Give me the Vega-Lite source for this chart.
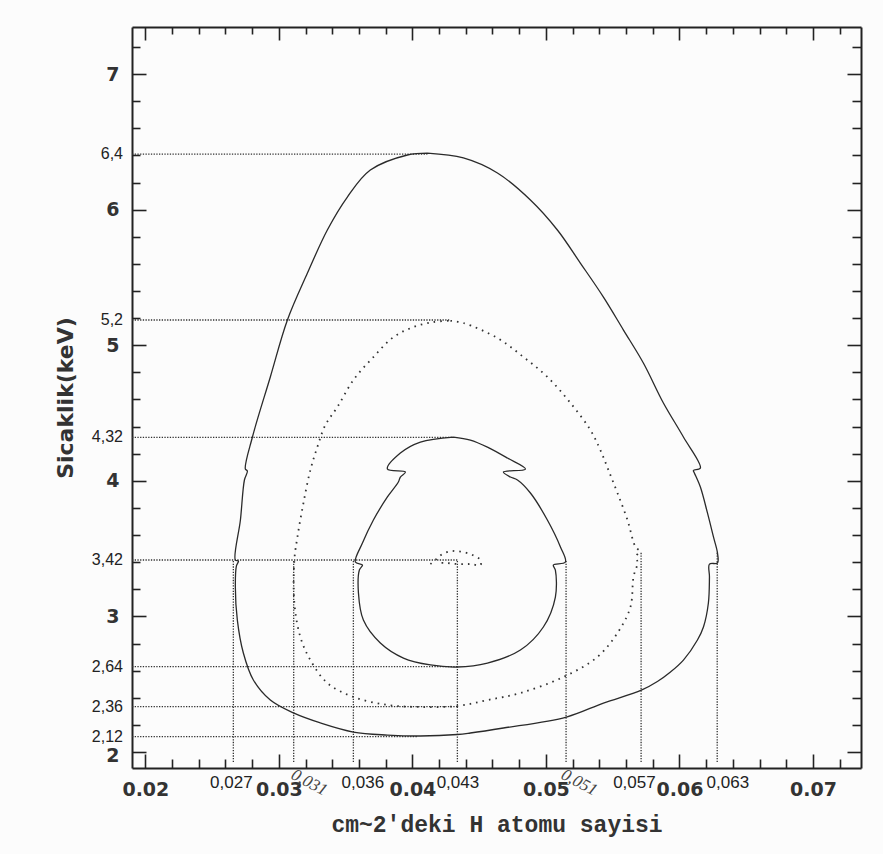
{
  "$schema": "https://vega.github.io/schema/vega-lite/v6.json",
  "width": 729,
  "height": 741,
  "autosize": "none",
  "padding": {"left": 132, "top": 27, "right": 22, "bottom": 86},
  "background": "#fcfcfc",
  "config": {"view": {"stroke": null}, "axis": {"grid": false}},
  "datasets": {
    "hlines": [
      {"y": 6.41, "x0": 0.019, "x1": 0.04112, "label": "6,4"},
      {"y": 5.186, "x0": 0.019, "x1": 0.04285, "label": "5,2"},
      {"y": 4.32, "x0": 0.019, "x1": 0.04307, "label": "4,32"},
      {"y": 3.416, "x0": 0.019, "x1": 0.04337, "label": "3,42"},
      {"y": 2.629, "x0": 0.019, "x1": 0.04337, "label": "2,64"},
      {"y": 2.334, "x0": 0.019, "x1": 0.04337, "label": "2,36"},
      {"y": 2.113, "x0": 0.019, "x1": 0.0404, "label": "2,12"}
    ],
    "vlines": [
      {"x": 0.02659, "y0": 1.926, "y1": 3.416, "label": "0,027", "lx": 0.02644},
      {"x": 0.03111, "y0": 1.926, "y1": 3.416, "label": "0,031", "lx": 0.03146},
      {"x": 0.03558, "y0": 1.926, "y1": 3.416, "label": "0,036", "lx": 0.03629},
      {"x": 0.04337, "y0": 1.926, "y1": 3.416, "label": "0,043", "lx": 0.04341},
      {"x": 0.05151, "y0": 1.926, "y1": 3.416, "label": "0,051", "lx": 0.05168},
      {"x": 0.05713, "y0": 1.926, "y1": 3.477, "label": "0,057", "lx": 0.05663},
      {"x": 0.06283, "y0": 1.926, "y1": 3.47, "label": "0,063", "lx": 0.06363}
    ],
    "contours": [
      {"c": "a", "i": 0, "x": 0.04112, "y": 6.417},
      {"c": "a", "i": 1, "x": 0.04382, "y": 6.381},
      {"c": "a", "i": 2, "x": 0.04637, "y": 6.270},
      {"c": "a", "i": 3, "x": 0.04884, "y": 6.071},
      {"c": "a", "i": 4, "x": 0.05086, "y": 5.850},
      {"c": "a", "i": 5, "x": 0.05258, "y": 5.606},
      {"c": "a", "i": 6, "x": 0.05431, "y": 5.355},
      {"c": "a", "i": 7, "x": 0.05581, "y": 5.112},
      {"c": "a", "i": 8, "x": 0.05730, "y": 4.869},
      {"c": "a", "i": 9, "x": 0.05880, "y": 4.574},
      {"c": "a", "i": 10, "x": 0.06030, "y": 4.323},
      {"c": "a", "i": 11, "x": 0.06157, "y": 4.094},
      {"c": "a", "i": 12, "x": 0.06105, "y": 4.076},
      {"c": "a", "i": 13, "x": 0.06112, "y": 4.058},
      {"c": "a", "i": 14, "x": 0.06157, "y": 3.954},
      {"c": "a", "i": 15, "x": 0.06210, "y": 3.763},
      {"c": "a", "i": 16, "x": 0.06255, "y": 3.586},
      {"c": "a", "i": 17, "x": 0.06285, "y": 3.468},
      {"c": "a", "i": 18, "x": 0.06285, "y": 3.394},
      {"c": "a", "i": 19, "x": 0.06225, "y": 3.386},
      {"c": "a", "i": 20, "x": 0.06225, "y": 3.291},
      {"c": "a", "i": 21, "x": 0.06217, "y": 3.099},
      {"c": "a", "i": 22, "x": 0.06180, "y": 2.922},
      {"c": "a", "i": 23, "x": 0.06135, "y": 2.826},
      {"c": "a", "i": 24, "x": 0.06030, "y": 2.678},
      {"c": "a", "i": 25, "x": 0.05933, "y": 2.590},
      {"c": "a", "i": 26, "x": 0.05835, "y": 2.520},
      {"c": "a", "i": 27, "x": 0.05715, "y": 2.456},
      {"c": "a", "i": 28, "x": 0.05431, "y": 2.361},
      {"c": "a", "i": 29, "x": 0.05154, "y": 2.258},
      {"c": "a", "i": 30, "x": 0.04682, "y": 2.177},
      {"c": "a", "i": 31, "x": 0.04434, "y": 2.140},
      {"c": "a", "i": 32, "x": 0.04337, "y": 2.129},
      {"c": "a", "i": 33, "x": 0.04060, "y": 2.118},
      {"c": "a", "i": 34, "x": 0.03813, "y": 2.125},
      {"c": "a", "i": 35, "x": 0.03558, "y": 2.147},
      {"c": "a", "i": 36, "x": 0.03311, "y": 2.214},
      {"c": "a", "i": 37, "x": 0.03109, "y": 2.288},
      {"c": "a", "i": 38, "x": 0.02936, "y": 2.383},
      {"c": "a", "i": 39, "x": 0.02809, "y": 2.531},
      {"c": "a", "i": 40, "x": 0.02734, "y": 2.730},
      {"c": "a", "i": 41, "x": 0.02689, "y": 2.973},
      {"c": "a", "i": 42, "x": 0.02674, "y": 3.217},
      {"c": "a", "i": 43, "x": 0.02682, "y": 3.372},
      {"c": "a", "i": 44, "x": 0.02697, "y": 3.409},
      {"c": "a", "i": 45, "x": 0.02674, "y": 3.416},
      {"c": "a", "i": 46, "x": 0.02712, "y": 3.711},
      {"c": "a", "i": 47, "x": 0.02742, "y": 4.006},
      {"c": "a", "i": 48, "x": 0.02764, "y": 4.072},
      {"c": "a", "i": 49, "x": 0.02749, "y": 4.087},
      {"c": "a", "i": 50, "x": 0.02802, "y": 4.323},
      {"c": "a", "i": 51, "x": 0.02936, "y": 4.766},
      {"c": "a", "i": 52, "x": 0.03064, "y": 5.186},
      {"c": "a", "i": 53, "x": 0.03214, "y": 5.532},
      {"c": "a", "i": 54, "x": 0.03363, "y": 5.850},
      {"c": "a", "i": 55, "x": 0.03513, "y": 6.093},
      {"c": "a", "i": 56, "x": 0.03685, "y": 6.292},
      {"c": "a", "i": 57, "x": 0.03963, "y": 6.403},
      {"c": "a", "i": 58, "x": 0.04112, "y": 6.417},
      {"c": "c", "i": 0, "x": 0.04307, "y": 4.323},
      {"c": "c", "i": 1, "x": 0.04434, "y": 4.301},
      {"c": "c", "i": 2, "x": 0.04562, "y": 4.249},
      {"c": "c", "i": 3, "x": 0.04712, "y": 4.168},
      {"c": "c", "i": 4, "x": 0.04847, "y": 4.087},
      {"c": "c", "i": 5, "x": 0.04682, "y": 4.065},
      {"c": "c", "i": 6, "x": 0.04734, "y": 4.028},
      {"c": "c", "i": 7, "x": 0.04787, "y": 4.006},
      {"c": "c", "i": 8, "x": 0.04884, "y": 3.910},
      {"c": "c", "i": 9, "x": 0.05011, "y": 3.711},
      {"c": "c", "i": 10, "x": 0.05109, "y": 3.512},
      {"c": "c", "i": 11, "x": 0.05146, "y": 3.401},
      {"c": "c", "i": 12, "x": 0.05056, "y": 3.379},
      {"c": "c", "i": 13, "x": 0.05071, "y": 3.342},
      {"c": "c", "i": 14, "x": 0.05071, "y": 3.143},
      {"c": "c", "i": 15, "x": 0.04981, "y": 2.922},
      {"c": "c", "i": 16, "x": 0.04809, "y": 2.752},
      {"c": "c", "i": 17, "x": 0.04562, "y": 2.656},
      {"c": "c", "i": 18, "x": 0.04337, "y": 2.627},
      {"c": "c", "i": 19, "x": 0.04135, "y": 2.642},
      {"c": "c", "i": 20, "x": 0.03933, "y": 2.693},
      {"c": "c", "i": 21, "x": 0.03760, "y": 2.804},
      {"c": "c", "i": 22, "x": 0.03633, "y": 2.973},
      {"c": "c", "i": 23, "x": 0.03596, "y": 3.173},
      {"c": "c", "i": 24, "x": 0.03603, "y": 3.342},
      {"c": "c", "i": 25, "x": 0.03626, "y": 3.379},
      {"c": "c", "i": 26, "x": 0.03573, "y": 3.401},
      {"c": "c", "i": 27, "x": 0.03626, "y": 3.541},
      {"c": "c", "i": 28, "x": 0.03708, "y": 3.711},
      {"c": "c", "i": 29, "x": 0.03813, "y": 3.881},
      {"c": "c", "i": 30, "x": 0.03895, "y": 3.991},
      {"c": "c", "i": 31, "x": 0.03910, "y": 4.028},
      {"c": "c", "i": 32, "x": 0.03948, "y": 4.065},
      {"c": "c", "i": 33, "x": 0.03813, "y": 4.087},
      {"c": "c", "i": 34, "x": 0.03910, "y": 4.205},
      {"c": "c", "i": 35, "x": 0.04060, "y": 4.286},
      {"c": "c", "i": 36, "x": 0.04307, "y": 4.323},
      {"c": "b", "i": 0, "x": 0.04285, "y": 5.180},
      {"c": "b", "i": 1, "x": 0.04382, "y": 5.164},
      {"c": "b", "i": 2, "x": 0.04637, "y": 5.053},
      {"c": "b", "i": 3, "x": 0.04832, "y": 4.913},
      {"c": "b", "i": 4, "x": 0.05011, "y": 4.766},
      {"c": "b", "i": 5, "x": 0.05184, "y": 4.574},
      {"c": "b", "i": 6, "x": 0.05333, "y": 4.375},
      {"c": "b", "i": 7, "x": 0.05408, "y": 4.227},
      {"c": "b", "i": 8, "x": 0.05468, "y": 4.080},
      {"c": "b", "i": 9, "x": 0.05536, "y": 3.910},
      {"c": "b", "i": 10, "x": 0.05611, "y": 3.711},
      {"c": "b", "i": 11, "x": 0.05671, "y": 3.512},
      {"c": "b", "i": 12, "x": 0.05701, "y": 3.482},
      {"c": "b", "i": 13, "x": 0.05678, "y": 3.445},
      {"c": "b", "i": 14, "x": 0.05686, "y": 3.394},
      {"c": "b", "i": 15, "x": 0.05656, "y": 3.291},
      {"c": "b", "i": 16, "x": 0.05633, "y": 3.069},
      {"c": "b", "i": 17, "x": 0.05536, "y": 2.878},
      {"c": "b", "i": 18, "x": 0.05386, "y": 2.701},
      {"c": "b", "i": 19, "x": 0.05131, "y": 2.553},
      {"c": "b", "i": 20, "x": 0.04809, "y": 2.435},
      {"c": "b", "i": 21, "x": 0.04562, "y": 2.383},
      {"c": "b", "i": 22, "x": 0.04337, "y": 2.339},
      {"c": "b", "i": 23, "x": 0.04060, "y": 2.332},
      {"c": "b", "i": 24, "x": 0.03813, "y": 2.347},
      {"c": "b", "i": 25, "x": 0.03558, "y": 2.406},
      {"c": "b", "i": 26, "x": 0.03363, "y": 2.509},
      {"c": "b", "i": 27, "x": 0.03236, "y": 2.678},
      {"c": "b", "i": 28, "x": 0.03161, "y": 2.848},
      {"c": "b", "i": 29, "x": 0.03116, "y": 3.099},
      {"c": "b", "i": 30, "x": 0.03116, "y": 3.416},
      {"c": "b", "i": 31, "x": 0.03139, "y": 3.586},
      {"c": "b", "i": 32, "x": 0.03184, "y": 3.836},
      {"c": "b", "i": 33, "x": 0.03236, "y": 4.080},
      {"c": "b", "i": 34, "x": 0.03288, "y": 4.249},
      {"c": "b", "i": 35, "x": 0.03348, "y": 4.411},
      {"c": "b", "i": 36, "x": 0.03438, "y": 4.544},
      {"c": "b", "i": 37, "x": 0.03558, "y": 4.743},
      {"c": "b", "i": 38, "x": 0.03708, "y": 4.913},
      {"c": "b", "i": 39, "x": 0.03858, "y": 5.060},
      {"c": "b", "i": 40, "x": 0.04008, "y": 5.134},
      {"c": "b", "i": 41, "x": 0.04157, "y": 5.171},
      {"c": "b", "i": 42, "x": 0.04285, "y": 5.180},
      {"c": "d", "i": 0, "x": 0.04135, "y": 3.386},
      {"c": "d", "i": 1, "x": 0.04180, "y": 3.423},
      {"c": "d", "i": 2, "x": 0.04225, "y": 3.460},
      {"c": "d", "i": 3, "x": 0.04300, "y": 3.482},
      {"c": "d", "i": 4, "x": 0.04375, "y": 3.475},
      {"c": "d", "i": 5, "x": 0.04450, "y": 3.453},
      {"c": "d", "i": 6, "x": 0.04510, "y": 3.416},
      {"c": "d", "i": 7, "x": 0.04510, "y": 3.379},
      {"c": "d", "i": 8, "x": 0.04434, "y": 3.386},
      {"c": "d", "i": 9, "x": 0.04345, "y": 3.386},
      {"c": "d", "i": 10, "x": 0.04255, "y": 3.394},
      {"c": "d", "i": 11, "x": 0.04180, "y": 3.394}
    ]
  },
  "resolve": {"axis": {"x": "independent", "y": "independent"}},
  "layer": [
    {
      "data": {"name": "hlines"},
      "mark": {"type": "rule", "stroke": "#333", "strokeWidth": 1.3, "strokeDash": [1.3, 1.4]},
      "encoding": {
        "x": {
          "field": "x0", "type": "quantitative",
          "scale": {"domain": [0.019, 0.0736], "nice": false, "zero": false},
          "axis": {
            "orient": "bottom",
            "values": [0.02,0.022,0.024,0.026,0.028,0.03,0.032,0.034,0.036,0.038,0.04,0.042,0.044,0.046,0.048,0.05,0.052,0.054,0.056,0.058,0.06,0.062,0.064,0.066,0.068,0.07,0.072],
            "labelExpr": "abs(datum.value*100 - round(datum.value*100)) < 0.001 ? format(datum.value, '.2f') : ''",
            "tickSize": {"condition": {"test": "abs(datum.value*100 - round(datum.value*100)) < 0.001", "value": -14}, "value": -9},
            "tickColor": "#222", "tickWidth": 1.6,
            "domainColor": "#222", "domainWidth": 2,
            "labelFont": "DejaVu Sans", "labelFontWeight": "bold", "labelFontSize": 19, "labelColor": "#333",
            "labelPadding": 26, "labelOverlap": false, "labelFlush": false,
            "title": "cm~2'deki H atomu sayisi",
            "titleFont": "Liberation Mono", "titleFontSize": 23, "titleFontWeight": "bold", "titleColor": "#333",
            "titlePadding": 9
          }
        },
        "x2": {"field": "x1"},
        "y": {
          "field": "y", "type": "quantitative",
          "scale": {"domain": [1.882, 7.347], "nice": false, "zero": false},
          "axis": {
            "orient": "left",
            "values": [2,2.2,2.4,2.6,2.8,3,3.2,3.4,3.6,3.8,4,4.2,4.4,4.6,4.8,5,5.2,5.4,5.6,5.8,6,6.2,6.4,6.6,6.8,7,7.2],
            "labelExpr": "abs(datum.value - round(datum.value)) < 0.001 ? format(datum.value, 'd') : ''",
            "tickSize": {"condition": {"test": "abs(datum.value - round(datum.value)) < 0.001", "value": -14}, "value": -8},
            "tickColor": "#222", "tickWidth": 1.6,
            "domainColor": "#222", "domainWidth": 2,
            "labelFont": "DejaVu Sans", "labelFontWeight": "bold", "labelFontSize": 19, "labelColor": "#333",
            "labelOffset": {"condition": {"test": "datum.value == 2", "value": 3}, "value": 0},
            "labelPadding": 27, "labelOverlap": false, "labelFlush": false,
            "title": "Sicaklik(keV)",
            "titleFont": "DejaVu Sans", "titleFontSize": 22, "titleFontWeight": "bold", "titleColor": "#333",
            "titlePadding": 28
          }
        }
      }
    },
    {
      "data": {"name": "vlines"},
      "mark": {"type": "rule", "stroke": "#333", "strokeWidth": 1.3, "strokeDash": [1.3, 1.4]},
      "encoding": {
        "x": {
          "field": "x", "type": "quantitative",
          "scale": {"domain": [0.019, 0.0736], "nice": false, "zero": false},
          "axis": {
            "orient": "top",
            "values": [0.02,0.022,0.024,0.026,0.028,0.03,0.032,0.034,0.036,0.038,0.04,0.042,0.044,0.046,0.048,0.05,0.052,0.054,0.056,0.058,0.06,0.062,0.064,0.066,0.068,0.07,0.072],
            "labels": false,
            "tickSize": {"condition": {"test": "abs(datum.value*100 - round(datum.value*100)) < 0.001", "value": -13}, "value": -7},
            "tickColor": "#222", "tickWidth": 1.6,
            "domainColor": "#222", "domainWidth": 2,
            "title": null
          }
        },
        "y": {
          "field": "y0", "type": "quantitative",
          "scale": {"domain": [1.882, 7.347], "nice": false, "zero": false},
          "axis": {
            "orient": "right",
            "values": [2,2.2,2.4,2.6,2.8,3,3.2,3.4,3.6,3.8,4,4.2,4.4,4.6,4.8,5,5.2,5.4,5.6,5.8,6,6.2,6.4,6.6,6.8,7,7.2],
            "labels": false,
            "tickSize": {"condition": {"test": "abs(datum.value - round(datum.value)) < 0.001", "value": -14}, "value": -9},
            "tickColor": "#222", "tickWidth": 1.6,
            "domainColor": "#222", "domainWidth": 2,
            "title": null
          }
        },
        "y2": {"field": "y1"}
      }
    },
    {
      "data": {"name": "hlines"},
      "mark": {"type": "text", "align": "right", "baseline": "middle", "dx": -9, "font": "Liberation Sans", "fontSize": 16, "fill": "#222"},
      "encoding": {
        "x": {"field": "x0", "type": "quantitative", "scale": {"domain": [0.019, 0.0736], "nice": false, "zero": false}, "axis": null},
        "y": {"field": "y", "type": "quantitative", "scale": {"domain": [1.882, 7.347], "nice": false, "zero": false}, "axis": null},
        "text": {"field": "label"}
      }
    },
    {
      "data": {"name": "vlines"},
      "transform": [{"filter": "datum.label != '0,031' && datum.label != '0,051'"}],
      "mark": {"type": "text", "align": "center", "baseline": "middle", "dy": 21, "font": "Liberation Sans", "fontSize": 17, "fill": "#222"},
      "encoding": {
        "x": {"field": "lx", "type": "quantitative", "scale": {"domain": [0.019, 0.0736], "nice": false, "zero": false}, "axis": null},
        "y": {"field": "y0", "type": "quantitative", "scale": {"domain": [1.882, 7.347], "nice": false, "zero": false}, "axis": null},
        "text": {"field": "label"}
      }
    },
    {
      "data": {"name": "vlines"},
      "transform": [{"filter": "datum.label == '0,031' || datum.label == '0,051'"}],
      "mark": {"type": "text", "align": "left", "baseline": "middle", "dy": 13, "angle": 28, "font": "Liberation Serif", "fontStyle": "italic", "fontSize": 17, "fill": "#444"},
      "encoding": {
        "x": {"field": "lx", "type": "quantitative", "scale": {"domain": [0.019, 0.0736], "nice": false, "zero": false}, "axis": null},
        "y": {"field": "y0", "type": "quantitative", "scale": {"domain": [1.882, 7.347], "nice": false, "zero": false}, "axis": null},
        "text": {"field": "label"}
      }
    },
    {
      "data": {"name": "contours"},
      "transform": [{"filter": "datum.c == 'a' || datum.c == 'c'"}],
      "mark": {"type": "line", "stroke": "#2a2a2a", "strokeWidth": 1.3, "interpolate": "catmull-rom"},
      "encoding": {
        "x": {"field": "x", "type": "quantitative", "scale": {"domain": [0.019, 0.0736], "nice": false, "zero": false}, "axis": null},
        "y": {"field": "y", "type": "quantitative", "scale": {"domain": [1.882, 7.347], "nice": false, "zero": false}, "axis": null},
        "detail": {"field": "c"},
        "order": {"field": "i", "type": "quantitative"}
      }
    },
    {
      "data": {"name": "contours"},
      "transform": [{"filter": "datum.c == 'b' || datum.c == 'd'"}],
      "mark": {"type": "line", "stroke": "#333", "strokeWidth": 1.8, "strokeDash": [1.6, 5], "interpolate": "catmull-rom"},
      "encoding": {
        "x": {"field": "x", "type": "quantitative", "scale": {"domain": [0.019, 0.0736], "nice": false, "zero": false}, "axis": null},
        "y": {"field": "y", "type": "quantitative", "scale": {"domain": [1.882, 7.347], "nice": false, "zero": false}, "axis": null},
        "detail": {"field": "c"},
        "order": {"field": "i", "type": "quantitative"}
      }
    }
  ]
}
